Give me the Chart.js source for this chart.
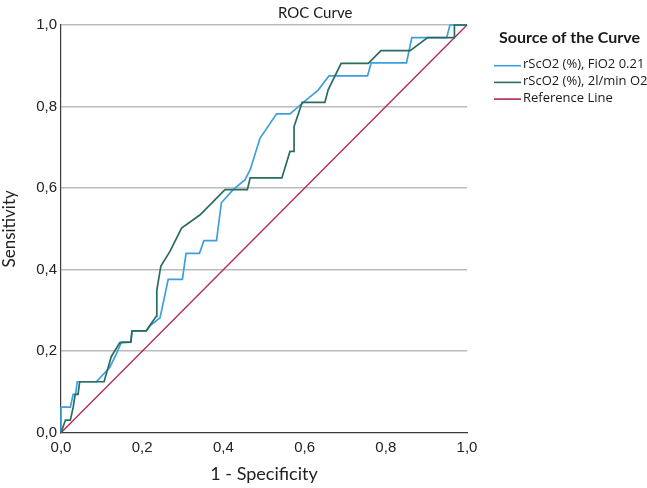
<!DOCTYPE html>
<html>
<head>
<meta charset="utf-8">
<script src="https://cdn.jsdelivr.net/npm/chart.js@4.4.1/dist/chart.umd.min.js"></script>
<style>
html, body { margin: 0; padding: 0; background: #fff; }
#wrap { width: 647px; height: 488px; }
</style>
</head>
<body>
<div id="wrap"><canvas id="rocChart" width="647" height="488"></canvas></div>
<script>
// series names and colours
var seriesNames = ['rScO2 (%), FiO2 0.21', 'rScO2 (%), 2l/min O2', 'Reference Line'];
var seriesColors = ['#3d9fe0', '#2b6c60', '#b3245a'];

// rScO2, FiO2 0.21 (blue)
var fio2Spec = [0, 0, 0.023, 0.03, 0.036, 0.04, 0.087, 0.12, 0.135, 0.149, 0.172, 0.175, 0.21, 0.219, 0.244,
  0.264, 0.299, 0.308, 0.341, 0.352, 0.383, 0.395, 0.424, 0.453, 0.466, 0.49, 0.531, 0.564, 0.597, 0.634,
  0.66, 0.755, 0.764, 0.851, 0.864, 0.95, 0.958, 1];
var fio2Sens = [0, 0.0625, 0.0625, 0.094, 0.094, 0.125, 0.125, 0.16, 0.19, 0.222, 0.222, 0.25, 0.25, 0.262, 0.282,
  0.376, 0.376, 0.44, 0.44, 0.471, 0.471, 0.564, 0.596, 0.62, 0.645, 0.722, 0.782, 0.782, 0.81, 0.841,
  0.875, 0.875, 0.907, 0.907, 0.969, 0.969, 1, 1];

// rScO2, 2l/min O2 (green)
var o2Spec = [0, 0.011, 0.023, 0.03, 0.035, 0.042, 0.046, 0.106, 0.124, 0.145, 0.172, 0.175, 0.21, 0.234, 0.236,
  0.246, 0.268, 0.297, 0.342, 0.404, 0.459, 0.466, 0.544, 0.564, 0.574, 0.574, 0.594, 0.65, 0.658, 0.69,
  0.757, 0.788, 0.86, 0.903, 0.969, 0.969, 1];
var o2Sens = [0, 0.031, 0.031, 0.0625, 0.094, 0.094, 0.125, 0.125, 0.187, 0.221, 0.222, 0.25, 0.25, 0.285, 0.35,
  0.409, 0.444, 0.502, 0.534, 0.596, 0.596, 0.625, 0.625, 0.69, 0.69, 0.751, 0.81, 0.81, 0.841, 0.906,
  0.906, 0.937, 0.937, 0.969, 0.969, 1, 1];

// diagonal reference line
var refSpec = [0, 1];
var refSens = [0, 1];

var tickLabels = ['0,0', '0,2', '0,4', '0,6', '0,8', '1,0'];

function toPoints(xs, ys) {
  var pts = [];
  for (var i = 0; i < xs.length; i++) {
    pts.push({x: xs[i], y: ys[i]});
  }
  return pts;
}

// title and legend drawn by hand so they sit where SPSS puts them
var titleLegendPlugin = {
  id: 'titleLegend',
  afterDraw: function(chart) {
    var ctx = chart.ctx;
    ctx.save();
    ctx.fillStyle = '#1a1a1a';
    ctx.textBaseline = 'alphabetic';
    ctx.textAlign = 'left';
    ctx.font = '15px Lato';
    ctx.fillText('ROC Curve', 278, 18);

    ctx.font = 'bold 16px Lato';
    ctx.fillText('Source of the Curve', 499, 43);

    ctx.font = '13px "Open Sans"';
    ctx.textBaseline = 'middle';
    for (var i = 0; i < seriesNames.length; i++) {
      var y = 65.7 + i * 16.7;
      ctx.strokeStyle = seriesColors[i];
      ctx.lineWidth = 1.6;
      ctx.beginPath();
      ctx.moveTo(494, y);
      ctx.lineTo(521, y);
      ctx.stroke();
      ctx.fillText(seriesNames[i], 523, y - 1);
    }
    ctx.restore();
  }
};

new Chart(document.getElementById('rocChart'), {
  type: 'line',
  data: {
    datasets: [{
      label: seriesNames[0],
      data: toPoints(fio2Spec, fio2Sens),
      borderColor: seriesColors[0],
      borderWidth: 1.7,
      order: 2
    }, {
      label: seriesNames[1],
      data: toPoints(o2Spec, o2Sens),
      borderColor: seriesColors[1],
      borderWidth: 1.7,
      order: 1
    }, {
      label: seriesNames[2],
      data: toPoints(refSpec, refSens),
      borderColor: seriesColors[2],
      borderWidth: 1.3,
      order: 3
    }]
  },
  options: {
    responsive: false,
    animation: false,
    devicePixelRatio: 1,
    layout: { padding: { top: 25, right: 180, left: 0, bottom: 0 } },
    elements: {
      point: { radius: 0 },
      line: { tension: 0, fill: false }
    },
    datasets: { line: { clip: false } },
    plugins: {
      legend: { display: false },
      tooltip: { enabled: false },
      title: { display: false }
    },
    scales: {
      x: {
        type: 'linear',
        min: 0,
        max: 1,
        ticks: {
          stepSize: 0.2,
          padding: 6,
          color: '#222',
          font: { family: 'Liberation Sans', size: 15 },
          maxRotation: 0,
          callback: function(v, i) { return tickLabels[i]; }
        },
        grid: { display: false, drawTicks: false },
        border: { color: '#3a3a3a', width: 1.2 },
        title: {
          display: true,
          text: '1 - Specificity',
          color: '#222',
          font: { family: 'Lato', size: 18 },
          padding: { top: 2, bottom: 3 }
        },
        afterFit: function(scale) { scale.height = 55.3; }
      },
      y: {
        type: 'linear',
        min: 0,
        max: 1,
        ticks: {
          stepSize: 0.2,
          padding: 4,
          color: '#222',
          font: { family: 'Liberation Sans', size: 15 },
          callback: function(v, i) { return tickLabels[i]; }
        },
        grid: {
          drawTicks: false,
          lineWidth: 1.5,
          color: function(c) { return c.tick && c.tick.value === 0 ? 'rgba(0,0,0,0)' : '#bbbbbb'; }
        },
        border: { color: '#3a3a3a', width: 1.2 },
        title: {
          display: true,
          text: 'Sensitivity',
          color: '#222',
          font: { family: 'Lato', size: 17, lineHeight: 1.1 },
          padding: { top: 0, bottom: 4 }
        },
        afterFit: function(scale) { scale.width = 61; }
      }
    }
  },
  plugins: [titleLegendPlugin]
});
</script>
</body>
</html>
